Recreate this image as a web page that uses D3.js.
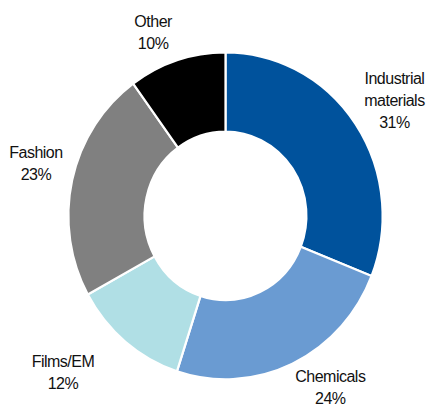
<!DOCTYPE html>
<html>
<head>
<meta charset="utf-8">
<script src="https://cdn.jsdelivr.net/npm/d3@7"></script>
<style>
  html, body { margin: 0; padding: 0; background: #fff; }
  svg { display: block; }
  text { font-family: "Liberation Sans", Arial, sans-serif; font-size: 16px; letter-spacing: -0.5px; fill: #111; }
</style>
</head>
<body>
<svg id="chart" width="427" height="407"></svg>
<script>
// Revenue mix by segment
const segments = ["Industrial materials", "Chemicals", "Films/EM", "Fashion", "Other"];
const shares = [31, 24, 12, 23, 10];
const labelLines = [["Industrial", "materials"], ["Chemicals"], ["Films/EM"], ["Fashion"], ["Other"]];
const colors = ["#00529c", "#6a9bd2", "#b0dfe5", "#808080", "#000000"];

// Per-label nudges (px) relative to the label ring
const labelNudge = [[10, -3], [23, -9.5], [-40, 2], [-2, -9], [-13, 7]];

const W = 427, H = 407;
const cx = 225.5, cy = 215.8;
const outerR = 163.5, innerR = 84.2;
const squash = 0.961;            // slight horizontal compression of the ring
const labelR = 200;
const lineH = 22, capH = 11.5;

const svg = d3.select("#chart");

const pie = d3.pie().value(d => d).sort(null);
const arcs = pie(shares);

const arc = d3.arc().innerRadius(innerR).outerRadius(outerR);

const ring = svg.append("g")
  .attr("transform", `translate(${cx},${cy}) scale(${squash},1)`);

ring.selectAll("path")
  .data(arcs)
  .join("path")
  .attr("d", arc)
  .attr("fill", (d, i) => colors[i])
  .attr("stroke", "#fff")
  .attr("stroke-width", 2.2)
  .attr("vector-effect", "non-scaling-stroke");

const labels = svg.append("g");

arcs.forEach((d, i) => {
  const a = (d.startAngle + d.endAngle) / 2;
  const x = cx + squash * labelR * Math.sin(a) + labelNudge[i][0];
  const yMid = cy - labelR * Math.cos(a) + labelNudge[i][1];
  const lines = labelLines[i].concat([shares[i] + "%"]);
  const n = lines.length;
  const firstBase = yMid - (lineH * (n - 1) - capH) / 2;
  const t = labels.append("text")
    .attr("text-anchor", "middle")
    .attr("x", x)
    .attr("y", firstBase);
  lines.forEach((s, k) => {
    t.append("tspan")
      .attr("x", x)
      .attr("y", firstBase + k * lineH)
      .text(s);
  });
});
</script>
</body>
</html>
